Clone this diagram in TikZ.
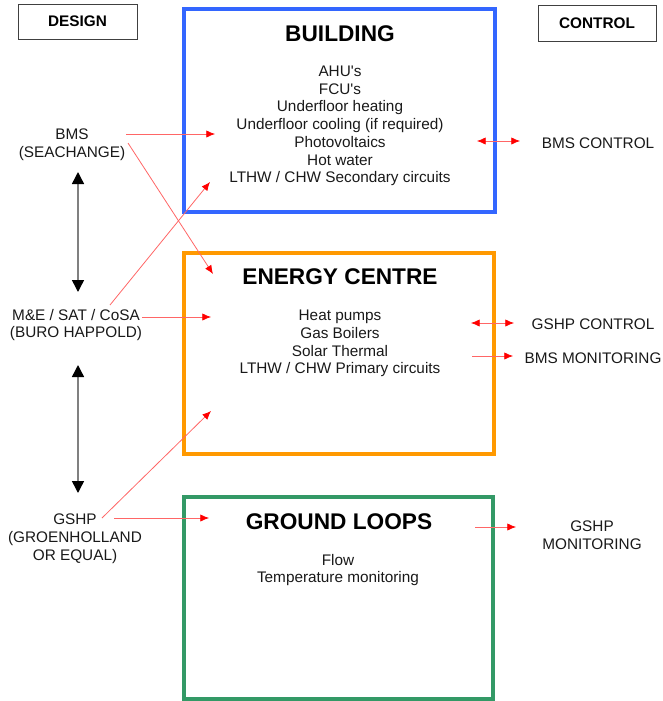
\documentclass[tikz,border=0pt]{standalone}
\usepackage{fontspec}
\setmainfont{Liberation Sans}
\usetikzlibrary{arrows.meta}
\definecolor{bblue}{HTML}{3366FF}
\definecolor{borange}{HTML}{FF9900}
\definecolor{bgreen}{HTML}{339966}
\begin{document}
\begin{tikzpicture}[x=0.75pt,y=-0.75pt,
  txt/.style={font=\fontsize{11.5}{13.3}\selectfont, align=center, inner sep=0pt, text=black!90},
  ttl/.style={font=\fontsize{17}{20}\selectfont\bfseries, inner sep=0pt},
  hdr/.style={draw=black!75, line width=0.75pt, font=\fontsize{11.5}{13}\selectfont\bfseries, inner sep=0pt},
  bigbox/.style={draw=#1, line width=3pt, inner sep=0pt},
  rarr/.style={draw=red!60, line width=0.6pt, -{Latex[length=6.5pt,width=5.5pt,color=red]}},
  rdarr/.style={draw=red!60, line width=0.6pt, {Latex[length=6.5pt,width=5.5pt,color=red]}-{Latex[length=6.5pt,width=5.5pt,color=red]}},
  karr/.style={draw=gray, line width=1.1pt, {Triangle[length=9pt,width=9pt,color=black]}-{Triangle[length=9pt,width=9pt,color=black]}}]
\useasboundingbox (0,0) rectangle (663,701);

% header boxes
\node[hdr, minimum width=89.25pt, minimum height=26.25pt] (design) at (77.5,21.5) {DESIGN};
\node[hdr, minimum width=88.5pt, minimum height=27pt] (control) at (597,23) {CONTROL};

% main boxes
\node[bigbox=bblue, minimum width=233.25pt, minimum height=152.25pt] (building) at (339.5,110.5) {};
\node[bigbox=borange, minimum width=232.5pt, minimum height=150.75pt] (energy) at (339,353.5) {};
\node[bigbox=bgreen, minimum width=231.75pt, minimum height=151.5pt] (ground) at (338.5,598) {};

% titles
\node[ttl] (tbuild) at (340,34) {BUILDING};
\node[ttl] (tenergy) at (340,277) {ENERGY CENTRE};
\node[ttl] (tground) at (339,522) {GROUND LOOPS};

% contents
\node[txt] (ibuild) at (340,126) {AHU\textquotesingle s\\FCU\textquotesingle s\\Underfloor heating\\Underfloor cooling (if required)\\Photovoltaics\\Hot water\\LTHW / CHW Secondary circuits};
\node[txt] (ienergy) at (340,343.5) {Heat pumps\\Gas Boilers\\Solar Thermal\\LTHW / CHW Primary circuits};
\node[txt] (iground) at (338,570) {Flow\\Temperature monitoring};

% left labels
\node[txt] (bms) at (72,145) {BMS\\(SEACHANGE)};
\node[txt] (me) at (76,325) {M\&E / SAT / CoSA\\(BURO HAPPOLD)};
\node[txt] (gshp) at (75,538.5) {GSHP\\(GROENHOLLAND\\OR EQUAL)};

% right labels
\node[txt] (bmsctl) at (598,143) {BMS CONTROL};
\node[txt] (gshpctl) at (593,324) {GSHP CONTROL};
\node[txt] (bmsmon) at (593,358) {BMS MONITORING};
\node[txt] (gshpmon) at (592,535.5) {GSHP\\MONITORING};

% coordinates
\coordinate (k1a) at (78,172);
\coordinate (k1b) at (78,292);
\coordinate (k2a) at (78,365);
\coordinate (k2b) at (78,493);

\coordinate (b1s) at (126,134);
\coordinate (b1e) at (215,134);
\coordinate (b2s) at (128,143);
\coordinate (b2e) at (213,274);
\coordinate (m1s) at (110,305);
\coordinate (m1e) at (210,182);
\coordinate (m2s) at (142,317);
\coordinate (m2e) at (211,317);
\coordinate (g1s) at (102,518);
\coordinate (g1e) at (211,411);
\coordinate (g2s) at (114,518);
\coordinate (g2e) at (209,518);

\coordinate (c1a) at (477,141);
\coordinate (c1b) at (520,141);
\coordinate (c2a) at (471,323);
\coordinate (c2b) at (514,323);
\coordinate (c3a) at (472,356);
\coordinate (c3b) at (513,356);
\coordinate (c4a) at (475,527);
\coordinate (c4b) at (516,527);

% black arrows
\draw[karr] (k1a) -- (k1b);
\draw[karr] (k2a) -- (k2b);

% red arrows
\draw[rarr] (b1s) -- (b1e);
\draw[rarr] (b2s) -- (b2e);
\draw[rarr] (m1s) -- (m1e);
\draw[rarr] (m2s) -- (m2e);
\draw[rarr] (g1s) -- (g1e);
\draw[rarr] (g2s) -- (g2e);

\draw[rdarr] (c1a) -- (c1b);
\draw[rdarr] (c2a) -- (c2b);
\draw[rarr] (c3a) -- (c3b);
\draw[rarr] (c4a) -- (c4b);
\end{tikzpicture}
\end{document}
